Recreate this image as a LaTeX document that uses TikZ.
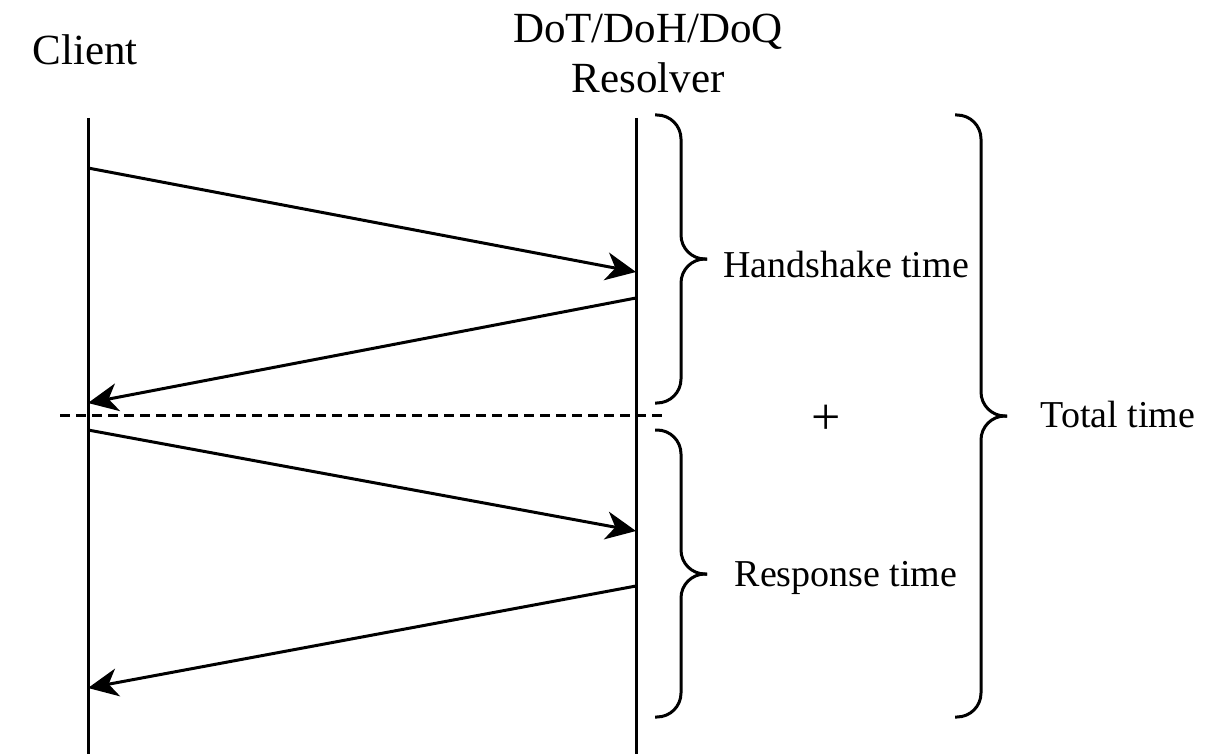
\documentclass[tikz,border=0pt]{standalone}
\usepackage{fontspec}
\setmainfont{Liberation Serif}
\usetikzlibrary{arrows.meta}

\begin{document}
\begin{tikzpicture}[x=1pt,y=-1pt,line width=3pt,
  msg/.style={-{Stealth[length=30pt,width=28pt,inset=9pt]}},
  curly/.style={rounded corners=24pt},
  bigtext/.style={font=\fontsize{43}{50}\selectfont},
  smalltext/.style={font=\fontsize{38}{44}\selectfont}]

\useasboundingbox (0,0) rectangle (1207,754);

% lifelines
\node [bigtext] (client) at (85,50) {Client};
\node [bigtext,align=center] (resolver) at (648,53) {DoT/DoH/DoQ\\Resolver};

\coordinate (ctop) at (88,118);
\coordinate (cbot) at (88,754);
\coordinate (rtop) at (636,118);
\coordinate (rbot) at (636,754);

\draw (ctop) -- (cbot);
\draw (rtop) -- (rbot);

% messages
\coordinate (c1) at (88,168);
\coordinate (r1) at (636,272);
\coordinate (r2) at (636,298);
\coordinate (c2) at (88,403);
\coordinate (c3) at (88,430);
\coordinate (r3) at (636,531);
\coordinate (r4) at (636,586);
\coordinate (c4) at (88,688);

\draw[msg] (c1) -- (r1);
\draw[msg] (r2) -- (c2);
\draw[msg] (c3) -- (r3);
\draw[msg] (r4) -- (c4);

% split
\coordinate (dl) at (60,415);
\coordinate (dr) at (662,415);
\draw[dash pattern=on 10pt off 6pt] (dl) -- (dr);

% braces: top end, middle, tip, bottom end
\coordinate (b1a) at (655,115);
\coordinate (b1m) at (681,259);
\coordinate (b1t) at (707,259);
\coordinate (b1b) at (655,403);
\coordinate (b2a) at (655,430);
\coordinate (b2m) at (681,574);
\coordinate (b2t) at (707,574);
\coordinate (b2b) at (655,717);
\coordinate (b3a) at (955,115);
\coordinate (b3m) at (981,416);
\coordinate (b3t) at (1007,416);
\coordinate (b3b) at (955,717);

\foreach \b in {b1,b2,b3} {
  \draw[curly] (\b a) -| (\b m) -- (\b t);
  \draw[curly] (\b t) -- (\b m) |- (\b b);
}

\node [smalltext] (hand) at (846,265) {Handshake time};
\node [font=\fontsize{52}{52}\selectfont] (plus) at (826,420) {+};
\node [smalltext] (resp) at (846,578) {Response time};
\node [smalltext] (total) at (1118,414) {Total time};

\end{tikzpicture}
\end{document}
